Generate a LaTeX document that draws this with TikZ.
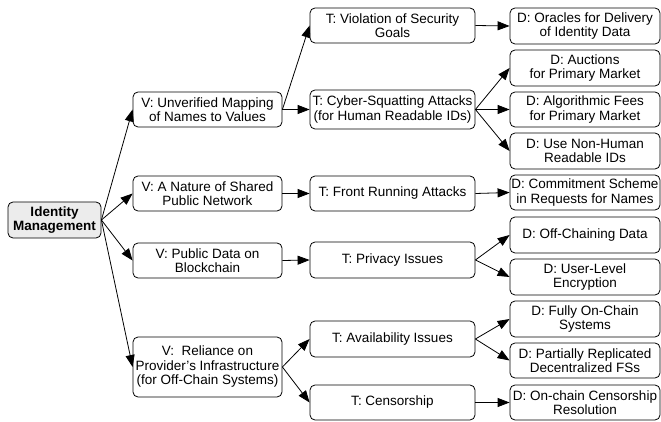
\documentclass[tikz,border=0pt]{standalone}
\usepackage{fontspec}
\setmainfont{Liberation Sans}
\usetikzlibrary{arrows.meta}
\begin{document}
\begin{tikzpicture}[x=1pt,y=-1pt,
  box/.style={draw, line width=0.8pt, rounded corners=5pt, align=center,
    inner sep=1pt, font=\fontsize{13.5}{14.5}\selectfont},
  vbox/.style={box, minimum width=149pt},
  tbox/.style={box, minimum width=165pt},
  dbox/.style={box, minimum width=150pt},
  rootbox/.style={box, fill=gray!15, minimum width=93pt, minimum height=36pt,
    font=\fontsize{13.5}{14.5}\selectfont\bfseries},
  arr/.style={draw, line width=0.8pt, -{Triangle[length=12pt,width=9pt]}}
]
\useasboundingbox (0,0) rectangle (661,422);
\node[rootbox] (root) at (54.5,220) {Identity\\Management};

\node[vbox, minimum height=35pt] (v1) at (207.5,109.5) {V: Unverified Mapping\\of Names to Values};
\node[vbox, minimum height=35pt] (v2) at (207.5,193.5) {V: A Nature of Shared\\Public Network};
\node[vbox, minimum height=35pt] (v3) at (207.5,260.5) {V: Public Data on\\Blockchain};
\node[vbox, minimum height=60pt] (v4) at (207.5,367) {V:\ \ Reliance on\\Provider’s Infrastructure\\(for Off-Chain Systems)};

\node[tbox, minimum height=35pt] (t1) at (392.5,25.5) {T: Violation of Security\\Goals};
\node[tbox, minimum height=39pt] (t2) at (392.5,109.5) {T: Cyber-Squatting Attacks\\(for Human Readable IDs)};
\node[tbox, minimum height=35pt] (t3) at (392.5,193.5) {T: Front Running Attacks};
\node[tbox, minimum height=36pt] (t4) at (392.5,260) {T: Privacy Issues};
\node[tbox, minimum height=36pt] (t5) at (392.5,339) {T: Availability Issues};
\node[tbox, minimum height=35pt] (t6) at (392.5,402.5) {T: Censorship};

\node[dbox, minimum height=36pt] (d1) at (585,26) {D: Oracles for Delivery\\of Identity Data};
\node[dbox, minimum height=36pt] (d2) at (585,68) {D: Auctions\\for Primary Market};
\node[dbox, minimum height=35pt] (d3) at (585,109.5) {D: Algorithmic Fees\\for Primary Market};
\node[dbox, minimum height=36pt] (d4) at (585,151) {D: Use Non-Human\\Readable IDs};
\node[dbox, minimum height=35pt] (d5) at (585,192.5) {D: Commitment Scheme\\in Requests for Names};
\node[dbox, minimum height=36pt] (d6) at (585,235) {D: Off-Chaining Data};
\node[dbox, minimum height=36pt] (d7) at (585,277) {D: User-Level\\Encryption};
\node[dbox, minimum height=36pt] (d8) at (585,319) {D: Fully On-Chain\\Systems};
\node[dbox, minimum height=35pt] (d9) at (585,360.5) {D: Partially Replicated\\Decentralized FSs};
\node[dbox, minimum height=35pt] (d10) at (585,402.5) {D: On-chain Censorship\\Resolution};

\foreach \v in {v1,v2,v3,v4} \draw[arr] (root.east) -- (\v.west);
\draw[arr] (v1.east) -- (t1.west);
\draw[arr] (v1.east) -- (t2.west);
\draw[arr] (v2.east) -- (t3.west);
\draw[arr] (v3.east) -- (t4.west);
\draw[arr] (v4.east) -- (t5.west);
\draw[arr] (v4.east) -- (t6.west);
\draw[arr] (t1.east) -- (d1.west);
\draw[arr] (t2.east) -- (d2.west);
\draw[arr] (t2.east) -- (d3.west);
\draw[arr] (t2.east) -- (d4.west);
\draw[arr] (t3.east) -- (d5.west);
\draw[arr] (t4.east) -- (d6.west);
\draw[arr] (t4.east) -- (d7.west);
\draw[arr] (t5.east) -- (d8.west);
\draw[arr] (t5.east) -- (d9.west);
\draw[arr] (t6.east) -- (d10.west);
\end{tikzpicture}
\end{document}
